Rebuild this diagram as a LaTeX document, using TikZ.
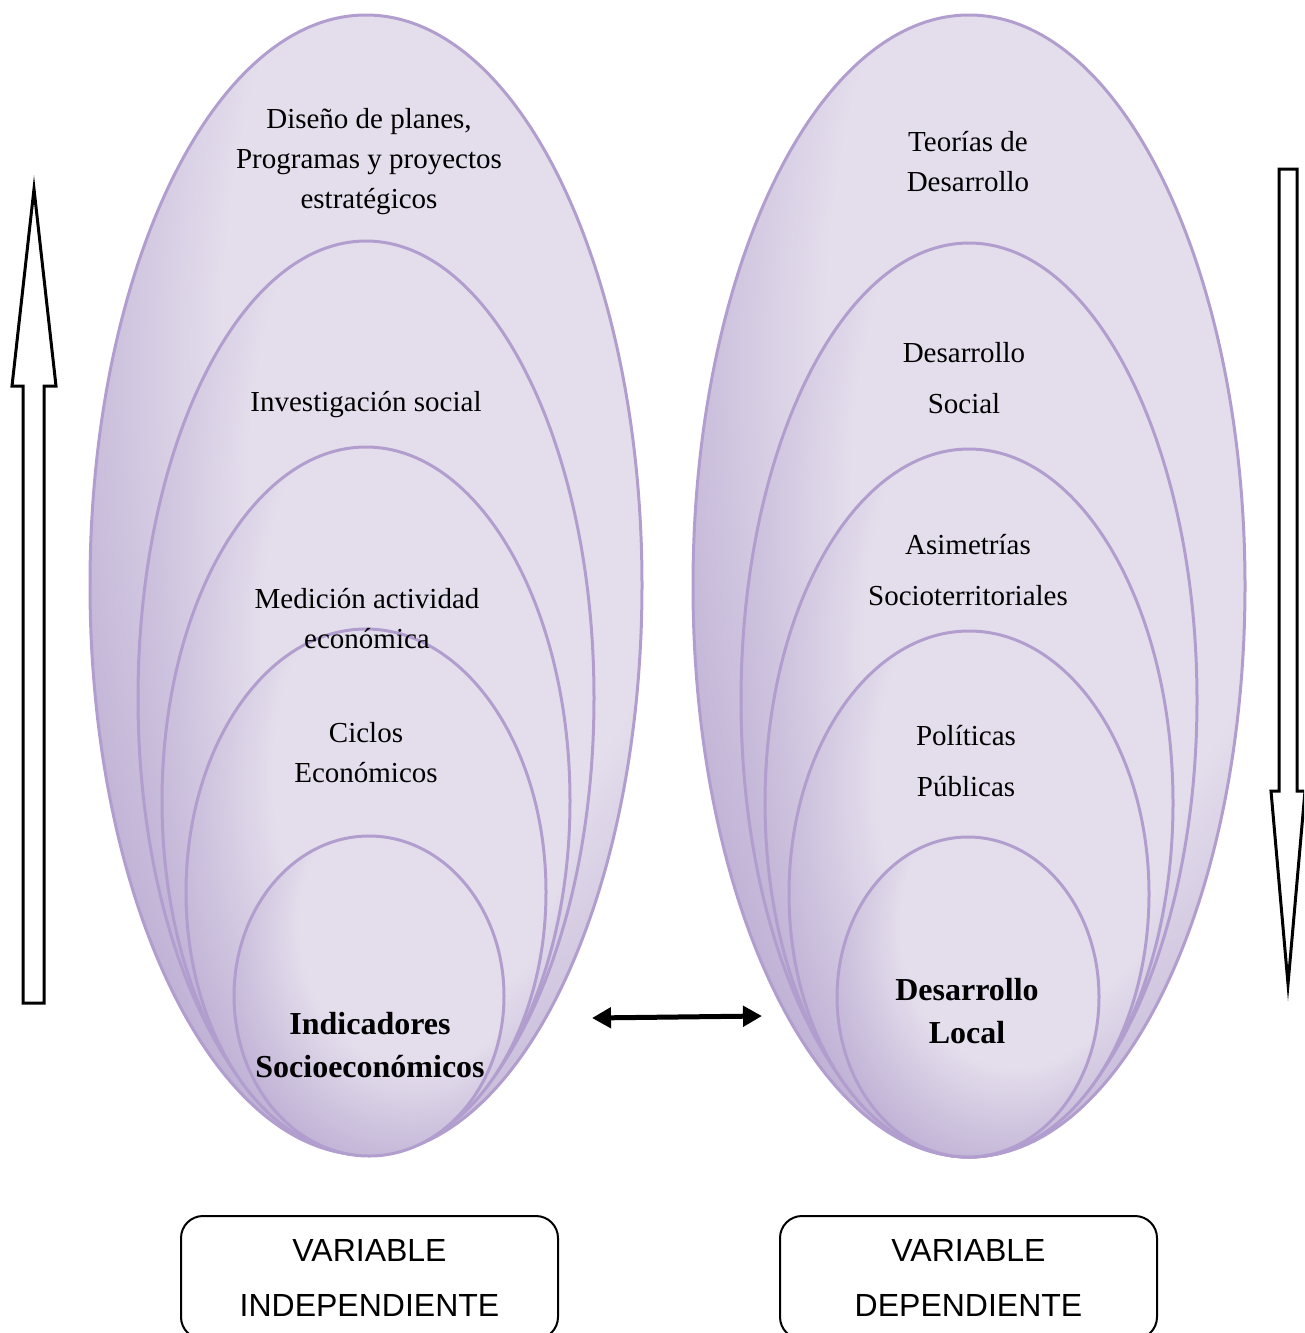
\documentclass[tikz,border=0pt]{standalone}
\usepackage{fontspec}
\setmainfont{Liberation Serif}
\newfontfamily\arialfont{Liberation Sans}
\usepackage{tikz}
\usetikzlibrary{shapes.geometric,arrows.meta}
\definecolor{elLight}{RGB}{228,222,236}
\definecolor{elDark}{RGB}{174,156,202}
\definecolor{elLine}{RGB}{178,158,206}
\pgfdeclareradialshading{elshade}{\pgfpoint{14bp}{17bp}}{color(0bp)=(elLight); color(22bp)=(elLight); color(42bp)=(elDark); color(65bp)=(elDark)}

\begin{document}
\begin{tikzpicture}
[x=1pt, y=-1pt,
elnode/.style={ellipse, draw=elLine, line width=3pt, shade, shading=elshade, inner sep=0pt},
eltext/.style={align=center, font=\fontsize{29}{40}\selectfont},
eltextwide/.style={align=center, font=\fontsize{29}{51}\selectfont},
elbold/.style={align=center, font=\fontsize{32}{43}\selectfont\bfseries},
varbox/.style={draw, line width=2pt, rounded corners=22pt, minimum width=377pt, minimum height=123pt, align=center, font=\arialfont\fontsize{32}{55}\selectfont},
hollowarrow/.style={draw, line width=3pt, fill=white, line join=miter, miter limit=25},
linkarrow/.style={line width=5pt, {Triangle[length=19pt,width=20pt]}-{Triangle[length=19pt,width=20pt]}}]
\useasboundingbox (0,0) rectangle (1304,1333);
\clip (0,0) rectangle (1304,1333);
\node[elnode, minimum width=552pt, minimum height=1140pt] (ds) at (366,585) {};
\node[elnode, minimum width=456pt, minimum height=914pt] (is) at (366,698) {};
\node[elnode, minimum width=408pt, minimum height=708pt] (ma) at (366,801) {};
\node[elnode, minimum width=360pt, minimum height=526pt] (ce) at (366,892) {};
\node[elnode, minimum width=270pt, minimum height=320pt] (in) at (369,996) {};
\node[elnode, minimum width=552pt, minimum height=1142pt] (td) at (969,586) {};
\node[elnode, minimum width=456pt, minimum height=914pt] (dsoc) at (969,700) {};
\node[elnode, minimum width=408pt, minimum height=708pt] (as) at (969,803) {};
\node[elnode, minimum width=360pt, minimum height=526pt] (pp) at (969,894) {};
\node[elnode, minimum width=262pt, minimum height=320pt] (dl) at (968,997) {};
\node[eltext] (tds) at (369,162) {Diseño de planes,\\Programas y proyectos\\estratégicos};
\node[eltext] (tis) at (366,405) {Investigación social};
\node[eltext] (tma) at (367,619) {Medición actividad\\económica};
\node[eltext] (tce) at (366,753) {Ciclos\\Económicos};
\node[elbold] (tin) at (370,1045) {Indicadores\\Socioeconómicos};
\node[eltext] (ttd) at (968,162) {Teorías de\\Desarrollo};
\node[eltextwide] (tdsoc) at (964,378) {Desarrollo\\Social};
\node[eltextwide] (tas) at (968,570) {Asimetrías\\Socioterritoriales};
\node[eltextwide] (tpp) at (966,761) {Políticas\\Públicas};
\node[elbold] (tdl) at (967,1011) {Desarrollo\\Local};
\draw[hollowarrow] (23,1003) -- (23,386) -- (12,386) -- (34,189) -- (56,386) -- (44,386) -- (44,1003) -- cycle;
\draw[hollowarrow] (1279,169) -- (1297,169) -- (1297,791) -- (1305,791) -- (1288,984) -- (1271,791) -- (1279,791) -- cycle;
\coordinate (lnkl) at (592,1018);
\coordinate (lnkr) at (762,1016);
\draw[linkarrow] (lnkl) -- (lnkr);
\node[varbox] (vi) at (369.5,1277.5) {VARIABLE\\INDEPENDIENTE};
\node[varbox] (vd) at (968.5,1277.5) {VARIABLE\\DEPENDIENTE};
\end{tikzpicture}
\end{document}
